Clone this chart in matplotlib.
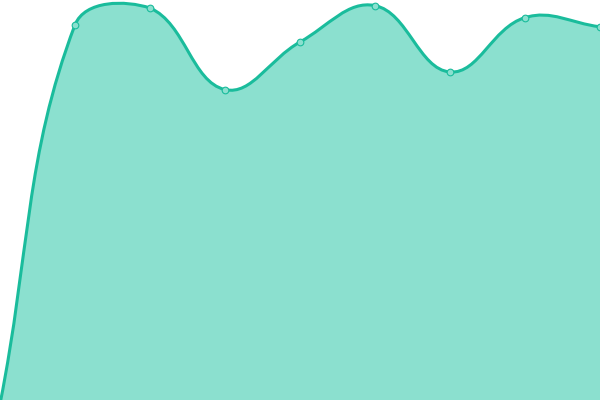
import numpy as np
import matplotlib
matplotlib.use("Agg")
import matplotlib.pyplot as plt
from matplotlib.path import Path
from matplotlib.patches import PathPatch

# data (index, value on a 0-100 scale)
x_idx = [0, 1, 2, 3, 4, 5, 6, 7, 8]
values = [-1.0, 93.8, 98.0, 77.6, 89.5, 98.6, 82.0, 95.6, 93.3]

line_color = "#1abc9c"
fill_color = "#8be0cf"
tension = 0.4

fig = plt.figure(figsize=(6, 4), dpi=100)
ax = fig.add_axes([0, 0, 1, 1])
ax.set_xlim(0, 8)
ax.set_ylim(0, 100)
ax.axis("off")

# work in pixel space so the bezier control points behave like a canvas spline
pts = ax.transData.transform(np.column_stack([x_idx, values]))
n = len(pts)
cp_prev = np.zeros_like(pts)
cp_next = np.zeros_like(pts)
for i in range(n):
    p0 = pts[max(i - 1, 0)]
    p1 = pts[i]
    p2 = pts[min(i + 1, n - 1)]
    d01 = np.hypot(*(p1 - p0))
    d12 = np.hypot(*(p2 - p1))
    s = d01 + d12
    fa = d01 / s if s else 0
    fb = d12 / s if s else 0
    cp_prev[i] = p1 - fa * tension * (p2 - p0)
    cp_next[i] = p1 + fb * tension * (p2 - p0)
# keep control points inside the canvas
cp_prev[:, 1] = np.clip(cp_prev[:, 1], 0, 400)
cp_next[:, 1] = np.clip(cp_next[:, 1], 0, 400)

inv = ax.transData.inverted()
P = inv.transform(pts)
A = inv.transform(cp_next)
B = inv.transform(cp_prev)

verts = [P[0]]
codes = [Path.MOVETO]
for i in range(n - 1):
    verts += [A[i], B[i + 1], P[i + 1]]
    codes += [Path.CURVE4] * 3

line_path = Path(verts, codes)
fill_path = Path(verts + [(x_idx[-1], -2), (x_idx[0], -2), P[0]],
                 codes + [Path.LINETO, Path.LINETO, Path.CLOSEPOLY])

ax.add_patch(PathPatch(fill_path, facecolor=fill_color, edgecolor="none"))
ax.add_patch(PathPatch(line_path, facecolor="none", edgecolor=line_color,
                       linewidth=2.2, capstyle="round", joinstyle="round"))
ax.plot(x_idx, values, linestyle="none", marker="o", markersize=4.8,
        markerfacecolor=fill_color, markeredgecolor=line_color,
        markeredgewidth=0.8, zorder=5)

fig.savefig("out.png", dpi=100)
